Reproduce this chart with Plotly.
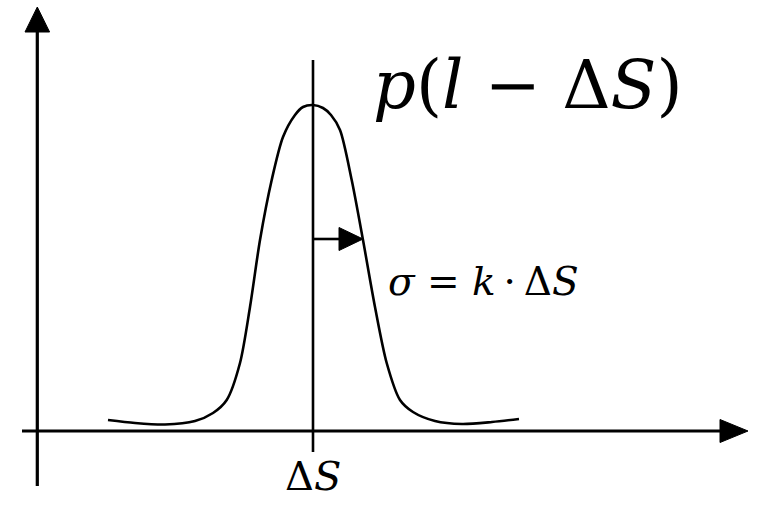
import plotly.graph_objects as go

# Canvas coordinates (pixel-like units of the original drawing)
W, H = 758, 512

# Bell-shaped curve p(l - ΔS)
curve_x = [108, 135, 165, 195, 213, 226.7, 240, 250, 260, 271.7, 283, 295, 303, 313,
           323, 331, 340, 351.7, 363, 375, 386.7, 400, 413, 435, 462, 492, 519]
curve_y = [420, 423, 424.5, 421, 413, 400, 363, 307, 240, 180, 137, 115, 107, 105,
           108, 115, 130, 180, 240, 307, 363, 400, 412, 421, 424, 422, 419]

# Axes (with arrowheads)
yaxis_x = [37.3, 37.3]
yaxis_y = [486, 30]
yhead_x = [25, 37.3, 49.6]
yhead_y = [32, 7, 32]
xaxis_x = [22, 722]
xaxis_y = [431, 431]
xhead_x = [720, 748, 720]
xhead_y = [419.5, 431, 442.5]

# Centre line at ΔS
center_x = [313, 313]
center_y = [60, 452]

# σ arrow
sig_x = [313, 341]
sig_y = [239, 239]
sighead_x = [339, 363, 339]
sighead_y = [227.5, 239, 250.5]

# Labels
labels = ["<i>p</i>(<i>l</i> − Δ<i>S</i>)", "<i>σ</i> = <i>k</i>\u2009·\u2009Δ<i>S</i>", "Δ<i>S</i>"]
label_x = [528, 483, 313]
label_y = [85, 281, 476]
label_size = [67, 39, 40]

SERIF = "DejaVu Serif"

fig = go.Figure()


def seg(x, y, w):
    fig.add_trace(go.Scatter(x=x, y=y, mode="lines", line=dict(color="black", width=w),
                             hoverinfo="skip", showlegend=False))


def tri(x, y):
    fig.add_trace(go.Scatter(x=x + [x[0]], y=y + [y[0]], mode="lines", fill="toself",
                             fillcolor="black", line=dict(color="black", width=1),
                             hoverinfo="skip", showlegend=False))


seg(yaxis_x, yaxis_y, 3.2)
tri(yhead_x, yhead_y)
seg(xaxis_x, xaxis_y, 3.2)
tri(xhead_x, xhead_y)
seg(center_x, center_y, 2.6)
fig.add_trace(go.Scatter(x=curve_x, y=curve_y, mode="lines",
                         line=dict(color="black", width=2.6, shape="spline", smoothing=0.8),
                         hoverinfo="skip", showlegend=False))
seg(sig_x, sig_y, 2.6)
tri(sighead_x, sighead_y)

for t, x, y, s in zip(labels, label_x, label_y, label_size):
    fig.add_annotation(x=x, y=y, text=t, showarrow=False, xanchor="center", yanchor="middle",
                       font=dict(family=SERIF, size=s, color="black"))

fig.update_layout(
    width=W, height=H, margin=dict(l=0, r=0, t=0, b=0),
    paper_bgcolor="white", plot_bgcolor="white",
    font=dict(family=SERIF),
    xaxis=dict(range=[0, W], visible=False, fixedrange=True),
    yaxis=dict(range=[H, 0], visible=False, fixedrange=True),
)

fig.write_html("out.html", config={"displayModeBar": False},
               post_script="document.body.style.margin='0';document.body.style.padding='0';")
